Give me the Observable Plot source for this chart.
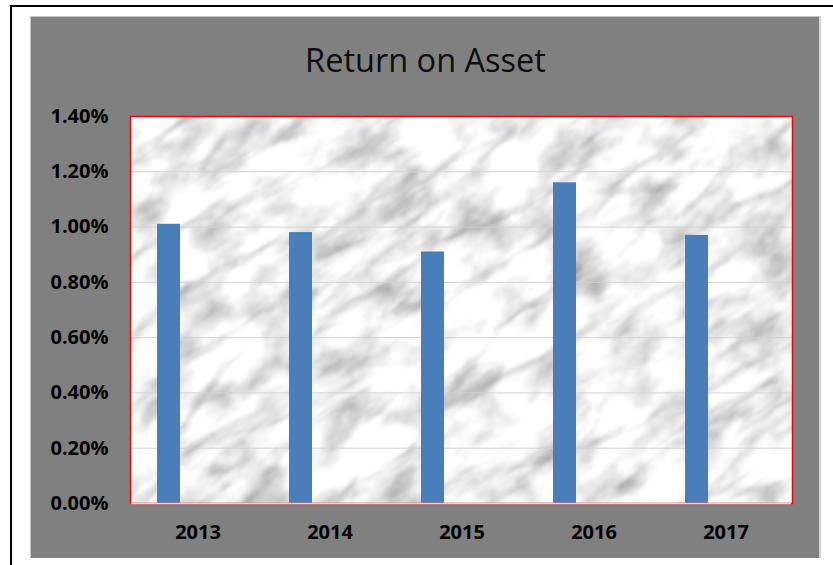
<!DOCTYPE html>
<html>
<head>
<meta charset="utf-8">
<script src="https://cdn.jsdelivr.net/npm/d3@7"></script>
<script src="https://cdn.jsdelivr.net/npm/@observablehq/plot@0.6"></script>
<style>
  html, body { margin: 0; padding: 0; background: #fff; width: 833px; height: 565px; overflow: hidden; }
  #outer { position: absolute; left: 10px; top: 5px; width: 840px; height: 600px; border-left: 2px solid #000; border-top: 2px solid #000; }
  #panel { position: absolute; left: 30px; top: 16px; width: 788px; height: 541px; background: #808080;
           border-left: 1px solid #c4c4c4; border-top: 1px solid #c4c4c4; border-right: 2px solid #d4d4d4; }
  #title { position: absolute; left: 30px; width: 791px; top: 44px; text-align: center;
           font-family: "Open Sans", sans-serif; font-size: 32.5px; line-height: 32px; color: #0d0d0d; }
  #chart { position: absolute; left: 0; top: 96px; }
</style>
</head>
<body>
<div id="outer"></div>
<div id="panel"></div>
<div id="title">Return on Asset</div>
<div id="chart"></div>
<script>
const years = ["2013", "2014", "2015", "2016", "2017"];
const roa = [0.0101, 0.0098, 0.0091, 0.0116, 0.0097];
const yTicks = [0, 0.002, 0.004, 0.006, 0.008, 0.010, 0.012, 0.014];
const gridTicks = [0.002, 0.004, 0.006, 0.008, 0.010, 0.012];

const data = years.map((year, i) => ({ year, roa: roa[i] }));

const W = 833, H = 462, mL = 130, mR = 41, mT = 20, mB = 55;

const plot = Plot.plot({
  width: W,
  height: H,
  marginLeft: mL,
  marginRight: mR,
  marginTop: mT,
  marginBottom: mB,
  style: { background: "transparent", fontFamily: "'Open Sans', sans-serif", color: "#000", overflow: "visible" },
  x: { domain: years, paddingInner: 0.826, paddingOuter: 0.413, label: null },
  y: { domain: [0, 0.014], label: null },
  marks: [
    Plot.frame({ fill: "#e0e0e0" }),
    Plot.gridY(gridTicks, { stroke: "#d2d2d2", strokeOpacity: 1, strokeWidth: 1 }),
    Plot.barY(data, { x: "year", y: "roa", fill: "#4a7ebb", dx: -29 }),
    Plot.frame({ stroke: "#ff0000", strokeWidth: 1.5 }),
    Plot.ruleY([0], { stroke: "#d9d9d9", strokeWidth: 1.5, insetLeft: 1, insetRight: 1 }),
    Plot.axisY({ ticks: yTicks, tickFormat: d3.format(".2%"), tickSize: 0, tickPadding: 22,
                 fontSize: 20, fontWeight: "bold", label: null }),
    Plot.axisX({ tickSize: 0, tickPadding: 21, fontSize: 20, fontWeight: "bold", label: null })
  ]
});

document.getElementById("chart").appendChild(plot);

// marble texture inside the plot area
const svg = d3.select(plot);
const ns = "http://www.w3.org/2000/svg";
const defs = svg.insert("defs", ":first-child");
const pw = W - mL - mR, ph = H - mT - mB;
defs.append("clipPath").attr("id", "plotclip")
  .append("rect").attr("x", mL).attr("y", mT).attr("width", pw).attr("height", ph);
const f = defs.append("filter").attr("id", "marble")
  .attr("filterUnits", "userSpaceOnUse")
  .attr("x", -600).attr("y", -600).attr("width", 2200).attr("height", 1800);
// veins
f.append("feTurbulence").attr("type", "turbulence").attr("baseFrequency", "0.006 0.02")
  .attr("numOctaves", 5).attr("seed", 11).attr("result", "t");
f.append("feColorMatrix").attr("in", "t").attr("type", "matrix")
  .attr("values", "1.5 0 0 0 0.58  1.5 0 0 0 0.58  1.5 0 0 0 0.58  0 0 0 0 1").attr("result", "veins");
// cloudiness
f.append("feTurbulence").attr("type", "fractalNoise").attr("baseFrequency", "0.018 0.03")
  .attr("numOctaves", 4).attr("seed", 4).attr("result", "n");
f.append("feColorMatrix").attr("in", "n").attr("type", "matrix")
  .attr("values", "1.3 0 0 0 0.3  1.3 0 0 0 0.3  1.3 0 0 0 0.3  0 0 0 0 1").attr("result", "cloud");
f.append("feBlend").attr("in", "veins").attr("in2", "cloud").attr("mode", "multiply").attr("result", "m");
f.append("feGaussianBlur").attr("in", "m").attr("stdDeviation", 0.9);

const frameNode = plot.querySelector("[aria-label=frame]");
const g = document.createElementNS(ns, "g");
g.setAttribute("clip-path", "url(#plotclip)");
const cx = mL + pw / 2, cy = mT + ph / 2;
const r = document.createElementNS(ns, "rect");
r.setAttribute("x", cx - 600); r.setAttribute("y", cy - 600);
r.setAttribute("width", 1200); r.setAttribute("height", 1200);
r.setAttribute("transform", `rotate(-35 ${cx} ${cy})`);
r.setAttribute("fill", "#fff");
r.setAttribute("filter", "url(#marble)");
g.appendChild(r);
frameNode.parentNode.insertBefore(g, frameNode.nextSibling);
</script>
</body>
</html>
